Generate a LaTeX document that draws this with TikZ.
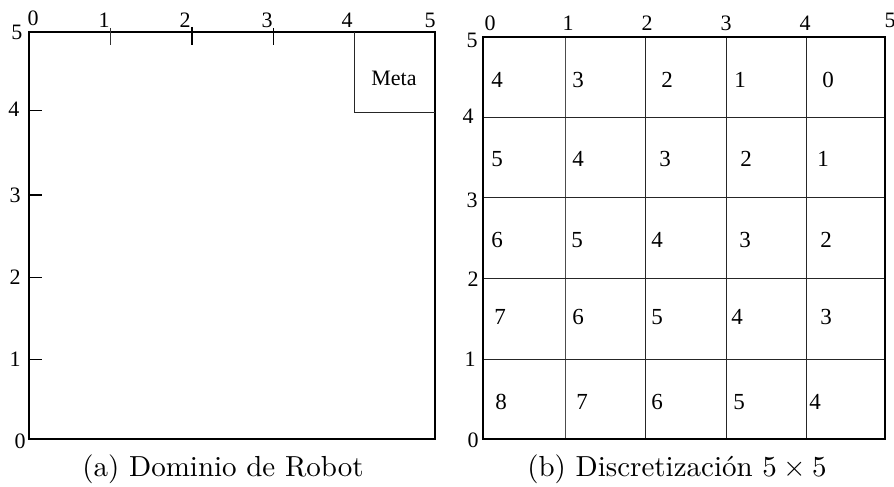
\documentclass[tikz,border=0pt]{standalone}
\usepackage{fontspec}
\newfontfamily\tms{Liberation Serif}
\newfontfamily\lmten{lmroman10-regular.otf}
\begin{document}
\begin{tikzpicture}[x=1pt,y=-1pt,
  lbl/.style={font=\tms\fontsize{22}{24}\selectfont, inner sep=0pt},
  cellnum/.style={font=\tms\fontsize{23}{25}\selectfont, inner sep=0pt},
  captxt/.style={font=\lmten\fontsize{29}{32}\selectfont, inner sep=0pt},
  thickborder/.style={line width=1.8pt, black},
  thinline/.style={line width=0.8pt, black!85},
  gridline/.style={line width=1pt, black!85},
  tickmark/.style={line width=0.9pt, black!80}]
\useasboundingbox (0,0) rectangle (894,487);
% ---------- panel (a) ----------
\coordinate (aTL) at (29,32);
\coordinate (aBR) at (435,439);
\draw[thickborder] (aTL) rectangle (aBR);
% top ticks
\draw[tickmark] (110,28) -- (110,45);
\draw[line width=1.6pt] (192,27) -- (192,45);
\draw[line width=0.6pt] (273,28) -- (273,45);
% left ticks
\draw[line width=0.7pt] (29,110) -- (42,110);
\draw[line width=1.4pt] (29,195) -- (42,195);
\draw[line width=0.7pt] (29,277) -- (42,277);
\draw[line width=0.8pt] (29,359) -- (42,359);
% Meta box
\draw[thinline] (354,32) -- (354,112) -- (435,112);
\node[lbl] (meta) at (394,78) {Meta};
% top labels
\node[lbl] (at0) at (33,18) {0};
\node[lbl] (at1) at (104,20) {1};
\node[lbl] (at2) at (185,20) {2};
\node[lbl] (at3) at (267,20) {3};
\node[lbl] (at4) at (347,20) {4};
\node[lbl] (at5) at (430,20) {5};
% left labels
\node[lbl] (al5) at (17,32) {5};
\node[lbl] (al4) at (14,109) {4};
\node[lbl] (al3) at (15,195) {3};
\node[lbl] (al2) at (15,277) {2};
\node[lbl] (al1) at (15,359) {1};
\node[lbl] (al0) at (20,441) {0};
\node[captxt] (capa) at (223,469) {(a) Dominio de Robot};
% ---------- panel (b) ----------
\draw[line width=0.7pt, black!70] (565,37) -- (565,439);
\foreach \x in {645,726,806} \draw[gridline] (\x,37) -- (\x,439);
\foreach \y in {117,197,278,359} \draw[gridline] (483,\y) -- (885,\y);
\draw[line width=1.4pt] (483,37) rectangle (885,439);
% top labels
\node[lbl] (bt0) at (490,23) {0};
\node[lbl] (bt1) at (568,23) {1};
\node[lbl] (bt2) at (647,23) {2};
\node[lbl] (bt3) at (726,23) {3};
\node[lbl] (bt4) at (805,23) {4};
\node[lbl] (bt5) at (890,20) {5};
% left labels
\node[lbl] (bl5) at (472,40) {5};
\node[lbl] (bl4) at (468,116) {4};
\node[lbl] (bl3) at (472,200) {3};
\node[lbl] (bl2) at (473,279) {2};
\node[lbl] (bl1) at (470,359) {1};
\node[lbl] (bl0) at (473,440) {0};
% cell numbers
\node[cellnum] (c11) at (497,80) {4};
\node[cellnum] (c12) at (578,80) {3};
\node[cellnum] (c13) at (667,80) {2};
\node[cellnum] (c14) at (740,80) {1};
\node[cellnum] (c15) at (828,80) {0};
\node[cellnum] (c21) at (497,159) {5};
\node[cellnum] (c22) at (578,159) {4};
\node[cellnum] (c23) at (665,159) {3};
\node[cellnum] (c24) at (746,159) {2};
\node[cellnum] (c25) at (823,159) {1};
\node[cellnum] (c31) at (497,240) {6};
\node[cellnum] (c32) at (577,240) {5};
\node[cellnum] (c33) at (657,240) {4};
\node[cellnum] (c34) at (745,240) {3};
\node[cellnum] (c35) at (826,240) {2};
\node[cellnum] (c41) at (500,317) {7};
\node[cellnum] (c42) at (578,317) {6};
\node[cellnum] (c43) at (657,317) {5};
\node[cellnum] (c44) at (737,317) {4};
\node[cellnum] (c45) at (826,317) {3};
\node[cellnum] (c51) at (501,402) {8};
\node[cellnum] (c52) at (582,402) {7};
\node[cellnum] (c53) at (657,402) {6};
\node[cellnum] (c54) at (739,402) {5};
\node[cellnum] (c55) at (815,402) {4};
\node[captxt] (capb) at (677,469) {(b) Discretización 5\hspace{0.22em}×\hspace{0.22em}5};
\end{tikzpicture}
\end{document}
